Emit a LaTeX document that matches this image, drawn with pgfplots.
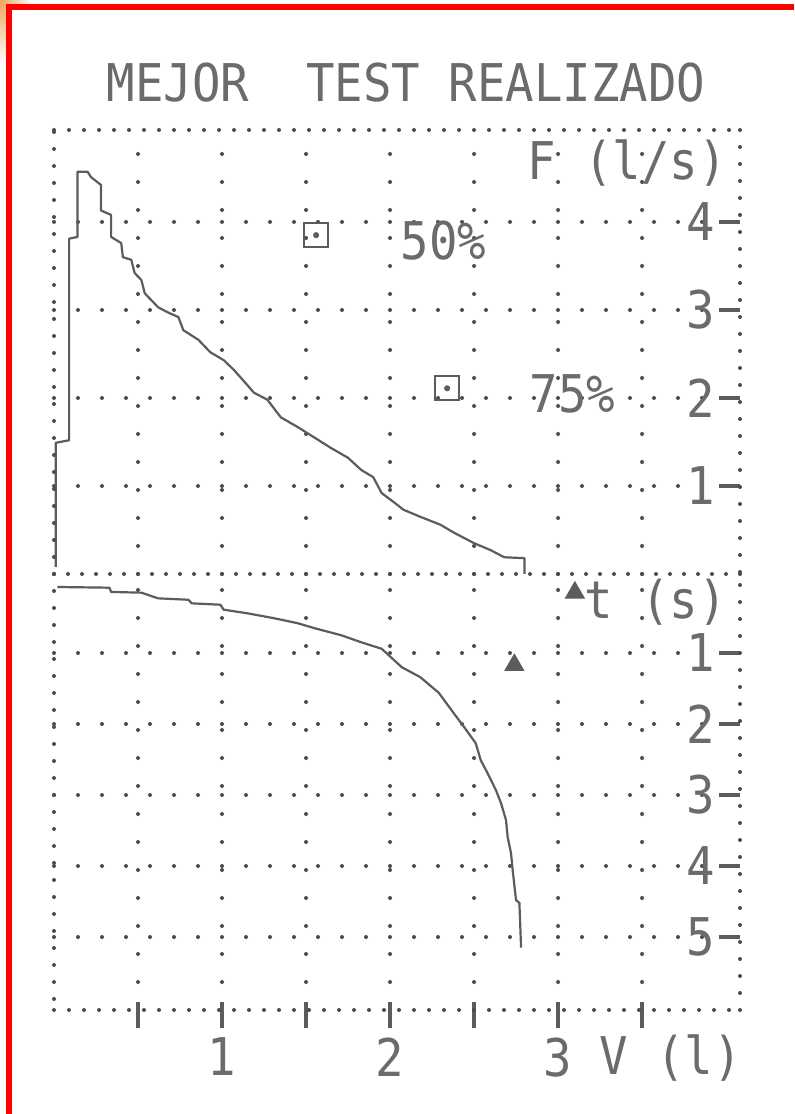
\documentclass[border=0pt]{standalone}
\usepackage{fontspec}
\usepackage{graphicx}
\usepackage{pgfplots}
\usepackage{pgfplotstable}
\pgfplotsset{compat=1.18}

\newfontfamily\dotfont{DejaVu Sans Mono}
% printer lettering: narrow monospaced text
\newcommand\dm[1]{{\dotfont\fontsize{26}{28}\selectfont\scalebox{0.91}[1]{#1}}}

\definecolor{ink}{gray}{0.36}
\definecolor{txt}{gray}{0.42}
\definecolor{inkdot}{gray}{0.30}

\tikzset{
  dotrow/.style={inkdot, line width=2pt, line cap=round, dash pattern=on 0pt off #1},
}

% flow-volume loop: volume (l) vs flow (l/s)
\pgfplotstableread{
V     F
0.01  0.08
0.01  1.49
0.09  1.52
0.09  3.81
0.14  3.83
0.14  4.57
0.20  4.57
0.22  4.51
0.28  4.42
0.28  4.13
0.34  4.08
0.34  3.83
0.40  3.76
0.41  3.60
0.46  3.57
0.48  3.42
0.52  3.34
0.54  3.19
0.58  3.11
0.62  3.03
0.68  2.97
0.74  2.92
0.77  2.77
0.86  2.66
0.93  2.52
1.01  2.43
1.07  2.32
1.14  2.17
1.19  2.06
1.27  1.98
1.35  1.78
1.45  1.67
1.55  1.55
1.65  1.43
1.75  1.32
1.83  1.18
1.90  1.10
1.95  0.92
2.02  0.82
2.08  0.73
2.18  0.65
2.30  0.56
2.38  0.47
2.50  0.35
2.60  0.27
2.68  0.19
2.80  0.18
2.80  0.00
}\flowvol

% volume-time curve: volume (l) vs time (s)
\pgfplotstableread{
V     t
0.02  0.07
0.33  0.08
0.34  0.14
0.52  0.15
0.62  0.23
0.80  0.25
0.82  0.30
0.99  0.32
1.01  0.39
1.15  0.44
1.31  0.51
1.45  0.58
1.55  0.65
1.71  0.75
1.83  0.85
1.95  0.94
2.01  1.07
2.07  1.20
2.18  1.34
2.29  1.56
2.38  1.85
2.44  2.04
2.51  2.27
2.54  2.51
2.58  2.69
2.63  2.93
2.66  3.11
2.69  3.35
2.70  3.59
2.72  3.82
2.73  4.06
2.75  4.48
2.77  4.52
2.78  5.15
}\voltime

% predicted flows at 50% and 75% of FVC
\pgfplotstableread{
V     F
1.56  3.85
2.34  2.11
}\predflow

% predicted volume marks on the time panel
\pgfplotstableread{
V     t
3.10  0.15
2.74  1.17
}\predvol

\begin{document}
\begin{tikzpicture}
\useasboundingbox (0,0) rectangle (397pt,557pt);
\fill[white] (0,0) rectangle (397pt,557pt);
\shade[top color=orange!60!brown!70, bottom color=white] (0,525pt) rectangle (3pt,557pt);
\shade[left color=orange!60!brown!70, right color=white] (0,555pt) rectangle (16pt,557pt);
\fill[red] (3pt,552pt) rectangle (397pt,555pt);
\fill[red] (3pt,0) rectangle (6pt,555pt);

\node[anchor=base, text=txt, inner sep=0pt] at (203pt,506pt) {\dm{MEJOR\ \ TEST REALIZADO}};

% upper panel: flow against volume
\begin{axis}[
  at={(27pt,270pt)}, anchor=south west,
  scale only axis, width=343pt, height=222pt,
  xmin=0, xmax=4.083, ymin=0, ymax=5.045,
  axis line style={draw=none},
  xtick={0.5,1,...,3.5}, xticklabels={},
  xtick style={draw=none},
  ytick={1,2,3,4}, yticklabels={\dm{1},\dm{2},\dm{3},\dm{4}},
  ytick pos=right, yticklabel pos=right, tick align=inside,
  major tick length=10.5pt,
  ytick style={ink, line width=1.6pt},
  yticklabel style={anchor=east, xshift=-12.5pt, inner sep=0pt, text=txt},
  grid=major,
  major x grid style={dotrow=14pt},
  major y grid style={dotrow=12pt},
  clip=false,
]
\addplot[ink, line width=1.1pt, line join=round] table[x=V, y=F] {\flowvol};
\addplot[only marks, mark=square, mark size=6pt,
  mark options={ink, line width=1.1pt, rounded corners=2.5pt}] table[x=V, y=F] {\predflow};
\addplot[only marks, mark=*, mark size=1.3pt, ink] table[x=V, y=F] {\predflow};
\node[anchor=base west, text=txt, inner sep=0pt] at (axis cs:2.06,3.57) {\dm{50\%}};
\node[anchor=base west, text=txt, inner sep=0pt] at (axis cs:2.83,1.84) {\dm{75\%}};
\node[anchor=base east, text=txt, inner sep=0pt] at (axis cs:4.006,4.48) {\dm{F (l/s)}};
\draw[dotrow=8.5pt] (rel axis cs:0,0) -- (rel axis cs:0,1);
\draw[dotrow=7.5pt] (rel axis cs:0,1) -- (rel axis cs:1,1);
\draw[dotrow=8.5pt] (rel axis cs:1,1) -- (rel axis cs:1,0);
\draw[dotrow=7pt] (rel axis cs:0,0) -- (rel axis cs:1,0);
\end{axis}

% lower panel: time (downwards) against volume
\begin{axis}[
  at={(27pt,270pt)}, anchor=north west,
  scale only axis, width=343pt, height=218pt,
  xmin=0, xmax=4.083, ymin=-6.028, ymax=0.113,
  axis line style={draw=none},
  xtick={0.5,1,...,3.5}, xticklabels={,\dm{1},,\dm{2},,\dm{3},},
  xtick pos=bottom, xticklabel pos=bottom,
  xtick style={ink, line width=1.6pt, /pgfplots/major tick length=13pt, yshift=-9pt},
  xticklabel style={anchor=north, yshift=-13.5pt, inner sep=0pt, text=txt},
  ytick={-5,-4,-3,-2,-1}, yticklabels={\dm{5},\dm{4},\dm{3},\dm{2},\dm{1}},
  ytick pos=right, yticklabel pos=right, tick align=inside,
  major tick length=10.5pt,
  ytick style={ink, line width=1.6pt},
  yticklabel style={anchor=east, xshift=-12.5pt, inner sep=0pt, text=txt},
  grid=major,
  major x grid style={dotrow=14pt},
  major y grid style={dotrow=12pt},
  clip=false,
]
\addplot[ink, line width=1.1pt, line join=round] table[x=V, y expr=-\thisrow{t}] {\voltime};
\addplot[only marks, mark=triangle*, mark size=5.5pt, ink] table[x=V, y expr=-\thisrow{t}] {\predvol};
\node[anchor=base east, text=txt, inner sep=0pt] at (axis cs:4.006,-0.52) {\dm{t (s)}};
\node[anchor=base east, text=txt, inner sep=0pt] at (axis cs:4.095,-6.94) {\dm{V (l)}};
\draw[dotrow=8.5pt] (rel axis cs:0,1) -- (rel axis cs:0,0);
\draw[dotrow=7.5pt] (rel axis cs:0,0) -- (rel axis cs:1,0);
\draw[dotrow=8.5pt] (rel axis cs:1,0) -- (rel axis cs:1,1);
\end{axis}
\end{tikzpicture}
\end{document}
